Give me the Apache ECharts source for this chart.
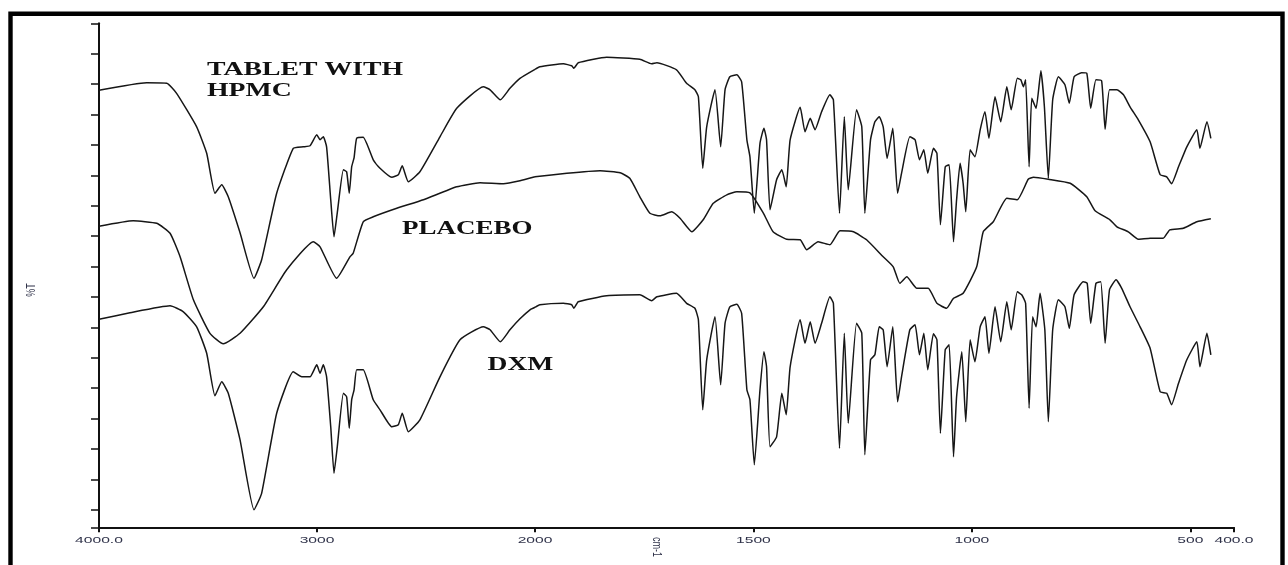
<!DOCTYPE html>
<html>
<head>
<meta charset="utf-8">
<script src="https://cdn.jsdelivr.net/npm/echarts@6/dist/echarts.min.js"></script>
<style>
html,body{margin:0;padding:0;background:#fff;}
#chart{width:1288px;height:565px;}
</style>
</head>
<body>
<div id="chart"></div>
<script>
// ---- Data (wavenumber cm-1, transmittance in arbitrary % units) ----
const hpmcWn = [4000,3781,3689,3644,3552,3506,3468,3437,3407,3353,3289,3254,3185,3109,3063,3032,3001,2986,2971,2956,2937,2922,2907,2879,2864,2852,2841,2830,2818,2788,2742,2711,2657,2627,2609,2581,2528,2436,2359,2237,2206,2159,2115,2069,2000,1989,1935,1916,1911,1901,1836,1760,1733,1721,1676,1653,1634,1626,1616,1607,1588,1575,1565,1554,1538,1527,1515,1508,1498,1485,1476,1470,1462,1447,1435,1425,1416,1393,1382,1370,1359,1344,1325,1317,1303,1292,1283,1264,1252,1245,1232,1222,1212,1203,1194,1181,1170,1161,1142,1130,1120,1110,1101,1088,1080,1072,1061,1052,1042,1035,1027,1020,1014,1004,993,981,970,961,947,934,920,910,896,888,882,877,869,863,853,842,834,825,815,802,787,777,766,749,737,728,716,703,695,685,668,653,638,619,592,569,554,543,527,508,485,478,462,453];
const hpmcT = [87.4,88.9,88.8,86.8,80.1,74.8,66.8,68.5,66.1,58.9,49.8,53.5,66.8,75.8,76.1,76.3,78.5,77.5,78.1,76.1,65.5,58.1,62.9,71.5,71.1,66.8,72.1,73.9,77.8,78.0,73.5,71.8,70.0,70.5,72.3,69.1,71.1,78.1,83.8,88.1,87.5,85.5,87.8,89.8,91.6,92.1,92.7,92.3,91.8,92.9,94.0,93.6,92.7,92.9,91.5,88.8,87.5,86.1,71.8,80.1,87.5,76.1,87.5,90.1,90.5,89.1,77.5,74.1,62.8,76.8,79.8,77.5,63.5,69.5,71.5,68.1,77.5,84.0,79.1,81.8,79.5,83.1,86.5,85.5,62.8,82.1,67.5,83.5,80.1,62.8,77.5,81.1,82.1,80.1,73.8,79.8,66.8,70.8,78.1,77.5,73.5,75.5,70.8,75.8,74.8,60.5,72.1,72.5,57.1,65.5,72.8,68.8,63.1,75.5,74.1,79.5,83.1,77.8,86.1,81.1,88.1,83.5,89.8,89.5,88.1,89.5,72.1,85.8,83.8,91.3,84.1,69.8,85.5,90.1,88.5,84.8,90.1,90.9,90.8,83.8,89.5,89.3,79.6,87.5,87.5,86.5,84.1,81.5,77.1,70.5,70.1,68.7,72.1,76.1,79.5,75.8,81.1,77.8];

const placeboWn = [4000,3843,3735,3674,3628,3567,3491,3430,3353,3246,3139,3017,2986,2910,2849,2834,2788,2742,2634,2512,2359,2252,2145,2069,2000,1927,1851,1805,1783,1760,1737,1714,1687,1668,1641,1615,1592,1561,1538,1508,1477,1455,1424,1393,1378,1352,1325,1302,1271,1241,1203,1180,1165,1149,1126,1100,1080,1058,1042,1020,989,974,951,920,896,871,859,825,775,737,718,684,668,642,619,592,562,547,516,485,453];
const placeboT = [60.2,61.3,60.8,58.8,54.1,45.5,38.8,36.7,38.8,44.1,51.5,57.1,56.1,49.8,54.1,54.8,61.1,62.1,63.8,65.5,68.1,68.9,68.7,69.3,70.1,70.8,71.3,70.9,69.8,66.1,62.8,62.3,63.1,61.8,59.1,61.5,64.8,66.5,67.1,66.9,62.8,59.1,57.6,57.5,55.5,57.1,56.5,59.3,59.1,57.5,54.1,52.1,48.8,50.1,47.8,47.8,44.8,43.8,45.8,46.8,52.1,59.1,61.1,65.8,65.5,69.6,70.0,69.6,68.8,66.1,63.3,61.5,60.1,59.1,57.6,57.8,57.8,59.5,59.8,61.1,61.7];

const dxmWn = [4000,3858,3674,3613,3552,3506,3468,3437,3407,3353,3289,3254,3185,3109,3070,3032,3001,2986,2971,2956,2937,2922,2907,2879,2864,2852,2841,2830,2818,2788,2742,2711,2657,2627,2609,2581,2528,2436,2344,2237,2206,2159,2115,2069,2023,2000,1989,1935,1916,1911,1901,1836,1760,1733,1721,1676,1653,1634,1626,1616,1607,1588,1575,1565,1554,1538,1527,1515,1508,1498,1485,1476,1470,1462,1447,1435,1425,1416,1393,1382,1370,1359,1344,1325,1317,1303,1292,1283,1264,1252,1245,1232,1222,1212,1203,1194,1181,1170,1161,1142,1130,1120,1110,1101,1088,1080,1072,1061,1052,1042,1035,1023,1014,1004,993,981,970,961,947,934,920,910,896,886,877,869,861,853,844,833,825,815,802,787,777,766,745,736,728,716,705,695,685,670,657,638,615,592,569,554,543,527,508,485,478,462,453];
const dxmT = [41.6,42.9,44.3,43.1,40.1,34.8,26.3,29.1,26.8,17.5,3.5,6.8,22.8,31.1,30.1,30.1,32.5,30.8,32.5,30.1,20.1,10.8,16.1,26.8,26.1,19.8,25.5,27.5,31.5,31.5,25.5,23.5,20.1,20.5,22.8,19.1,21.5,30.1,37.5,40.1,39.5,37.1,39.5,41.7,43.5,44.0,44.5,44.8,44.5,43.8,45.1,46.3,46.5,45.3,46.1,46.8,44.8,43.8,41.5,23.5,33.5,42.1,28.5,40.8,44.1,44.6,42.8,27.5,25.5,12.5,27.5,35.1,32.1,16.1,18.1,26.8,22.5,32.1,41.5,36.8,41.1,36.8,40.8,46.1,44.8,15.8,38.8,20.8,40.8,38.8,14.5,33.5,34.5,40.1,39.5,32.1,40.1,25.1,30.1,39.5,40.5,34.5,38.8,31.5,38.7,37.5,18.8,35.5,36.5,14.1,26.1,35.1,21.1,37.5,33.1,40.1,42.1,34.8,44.1,37.1,45.1,39.5,47.1,46.5,44.8,23.8,42.1,40.1,46.8,39.5,21.1,39.5,45.5,44.1,39.8,46.5,49.1,48.8,40.8,48.8,49.1,36.8,47.5,49.5,47.8,44.1,40.1,35.8,27.1,26.8,24.5,28.8,33.5,37.1,32.1,38.8,34.5];

const seriesNames = ['TABLET WITH HPMC', 'PLACEBO', 'DXM'];
const xTickValuesHigh = [4000, 3000, 2000];
const xTickValuesLow = [1500, 1000, 500, 400];
const xTickLabels = {4000:'4000.0', 3000:'3000', 2000:'2000', 1500:'1500', 1000:'1000', 500:'500', 400:'400.0'};
const xAxisName = 'cm-1';
const yAxisName = '%T';

// y axis: 16 equal tick steps from top, plus bottom end
const yMax = 100.8, yStep = 6.08;
const yTicks = [0];
for (let k = 0; k <= 16; k++) yTicks.push(+(yMax - yStep * k).toFixed(2));

function split(wn, t) {
  const hi = [], lo = [];
  wn.forEach((w, i) => {
    if (w >= 2000) hi.push([w, t[i]]);
    if (w <= 2000) lo.push([w, t[i]]);
  });
  return [hi, lo];
}
const traces = [split(hpmcWn, hpmcT), split(placeboWn, placeboT), split(dxmWn, dxmT)];

const lineColor = '#161616';
const series = [];
traces.forEach((tr, i) => {
  [0, 1].forEach(g => {
    series.push({
      name: seriesNames[i], type: 'line', xAxisIndex: g, yAxisIndex: g,
      data: tr[g], showSymbol: false, smooth: 0.15, clip: false,
      lineStyle: {color: lineColor, width: 1.5}, silent: true
    });
  });
});

const axisLineStyle = {color: '#111', width: 2};
const labelColor = '#30334a';
const labelFont = 'Liberation Sans, Arial, sans-serif';

const chart = echarts.init(document.getElementById('chart'), null, {renderer: 'canvas'});

const baseGraphic = [
  {type: 'rect', shape: {x: 10.5, y: 13.8, width: 1272, height: 600}, z: 100,
   style: {fill: 'none', stroke: '#000', lineWidth: 4.4}, silent: true},
  {type: 'text', x: 207, y: 70, scaleX: 1.46, z: 100,
   style: {text: 'TABLET WITH', fontSize: 19, fontWeight: 'bold', fontFamily: 'Liberation Serif, serif', fill: '#111', verticalAlign: 'middle'}},
  {type: 'text', x: 207, y: 91.5, scaleX: 1.46, z: 100,
   style: {text: 'HPMC', fontSize: 19, fontWeight: 'bold', fontFamily: 'Liberation Serif, serif', fill: '#111', verticalAlign: 'middle'}},
  {type: 'text', x: 402, y: 229.5, scaleX: 1.42, z: 100,
   style: {text: 'PLACEBO', fontSize: 19, fontWeight: 'bold', fontFamily: 'Liberation Serif, serif', fill: '#111', verticalAlign: 'middle'}},
  {type: 'text', x: 487.5, y: 365.5, scaleX: 1.45, z: 100,
   style: {text: 'DXM', fontSize: 19, fontWeight: 'bold', fontFamily: 'Liberation Serif, serif', fill: '#111', verticalAlign: 'middle'}},
  {type: 'text', x: 657, y: 547, rotation: -Math.PI / 2, scaleY: 1.5, z: 100,
   style: {text: xAxisName, fontSize: 9, fontFamily: labelFont, fill: labelColor, align: 'center', verticalAlign: 'middle'}},
  {type: 'text', x: 31, y: 290, rotation: Math.PI / 2, scaleY: 1.5, z: 100,
   style: {text: yAxisName, fontSize: 9, fontFamily: labelFont, fill: labelColor, align: 'center', verticalAlign: 'middle'}}
];

chart.setOption({
  animation: false,
  backgroundColor: '#fff',
  grid: [
    {left: 99, top: 23.3, width: 436, height: 504},
    {left: 535, top: 23.3, width: 699, height: 504}
  ],
  xAxis: [
    {gridIndex: 0, type: 'value', min: 2000, max: 4000, inverse: true,
     axisLine: {show: true, onZero: false, lineStyle: axisLineStyle},
     axisTick: {show: true, length: 5, customValues: xTickValuesHigh, lineStyle: {color: '#111', width: 2}},
     axisLabel: {show: false}, splitLine: {show: false}},
    {gridIndex: 1, type: 'value', min: 400, max: 2000, inverse: true,
     axisLine: {show: true, onZero: false, lineStyle: axisLineStyle},
     axisTick: {show: true, length: 5, customValues: xTickValuesLow, lineStyle: {color: '#111', width: 2}},
     axisLabel: {show: false}, splitLine: {show: false}}
  ],
  yAxis: [
    {gridIndex: 0, type: 'value', min: 0, max: yMax,
     axisLine: {show: true, onZero: false, lineStyle: axisLineStyle},
     axisTick: {show: true, length: 8, customValues: yTicks, lineStyle: {color: '#111', width: 1.5}},
     axisLabel: {show: false}, splitLine: {show: false}},
    {gridIndex: 1, type: 'value', min: 0, max: yMax, show: false, splitLine: {show: false}}
  ],
  series: series,
  graphic: baseGraphic
});

// Horizontally stretched tick labels, placed through the axes' own scales
const labelGraphic = xTickValuesHigh.concat(xTickValuesLow).map(v => {
  const axisIdx = v >= 2000 ? 0 : 1;
  const px = chart.convertToPixel({xAxisIndex: axisIdx}, v);
  return {type: 'text', x: px, y: 540, scaleX: 1.68, z: 100,
    style: {text: xTickLabels[v], fontSize: 9.3, fontFamily: labelFont, fill: labelColor, align: 'center', verticalAlign: 'middle'}};
});
chart.setOption({graphic: baseGraphic.concat(labelGraphic)});
</script>
</body>
</html>
